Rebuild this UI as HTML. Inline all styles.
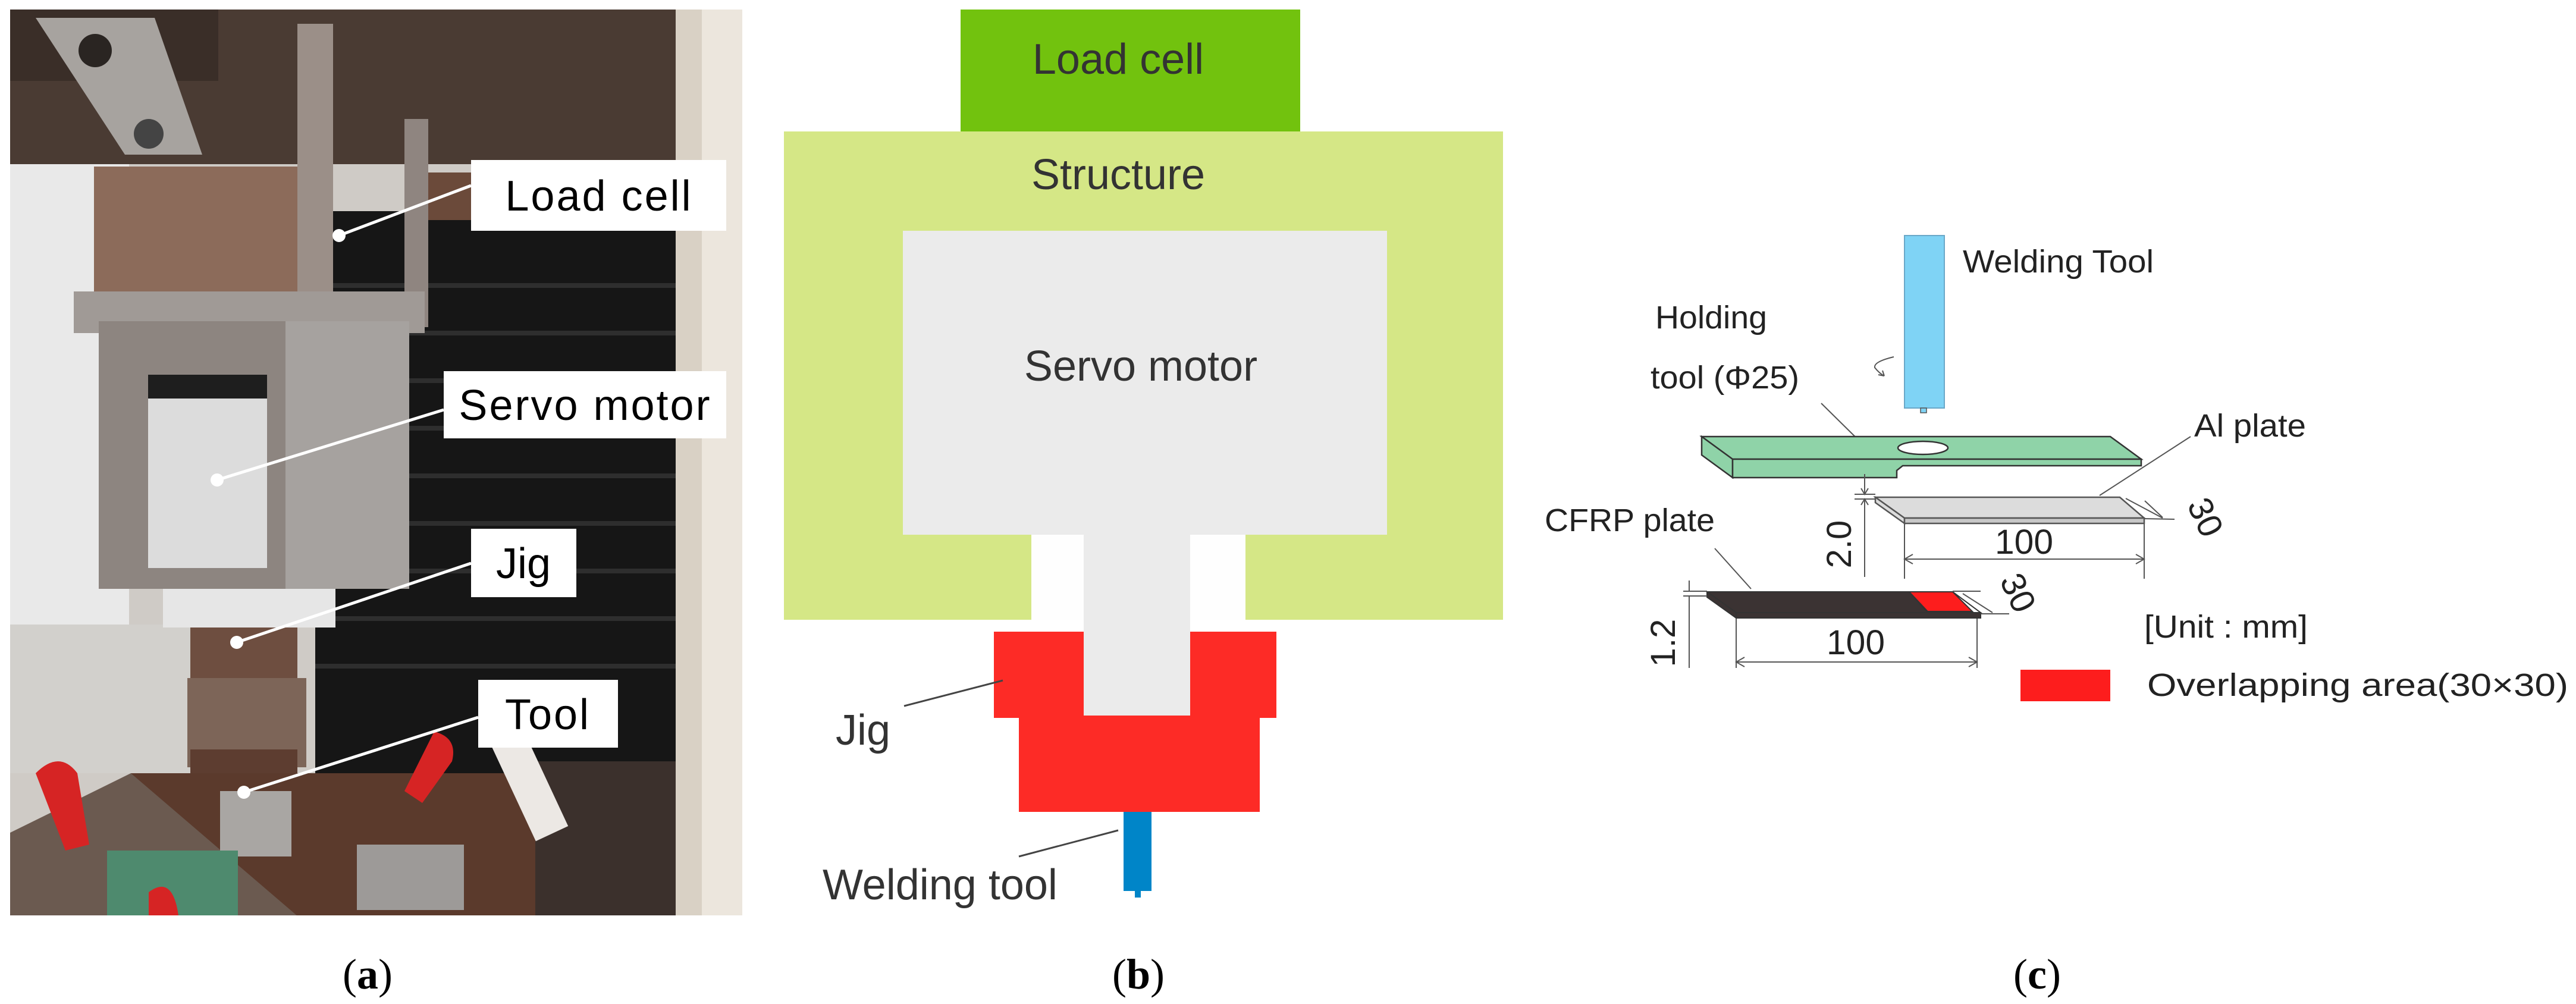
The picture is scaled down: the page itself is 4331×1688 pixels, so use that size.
<!DOCTYPE html>
<html><head><meta charset="utf-8"><style>
html,body{margin:0;padding:0;background:#fff;width:4331px;height:1688px;overflow:hidden}
svg{display:block}
.b{font-family:"Liberation Sans",Arial,sans-serif;fill:#333;font-size:72px}
.c{font-family:"Liberation Sans",Arial,sans-serif;fill:#222;font-size:54px}
.n{font-family:"Liberation Sans",Arial,sans-serif;fill:#222;font-size:58px}
.cap{font-family:"Liberation Serif",serif;font-size:72px;fill:#000}
.lbl{font-family:"Liberation Sans",Arial,sans-serif;font-size:72px;fill:#000}
</style></head><body>
<svg width="4331" height="1688" viewBox="0 0 4331 1688" xmlns="http://www.w3.org/2000/svg">
<!-- ================= Panel (a) photo ================= -->
<defs><clipPath id="ph"><rect x="17" y="16" width="1231" height="1523"/></clipPath></defs>
<g clip-path="url(#ph)">
<rect x="17" y="16" width="1231" height="1523" fill="#cfcbc6"/>
<rect x="17" y="200" width="200" height="900" fill="#e9e9e9"/>
<rect x="17" y="1050" width="400" height="250" fill="#d2d0cc"/>
<rect x="17" y="16" width="1231" height="260" fill="#4a3b33"/>
<rect x="17" y="16" width="350" height="120" fill="#3a2e28"/>
<polygon points="60,30 260,30 340,260 210,260" fill="#a7a39f"/>
<circle cx="160" cy="85" r="28" fill="#2a2522"/><circle cx="250" cy="225" r="25" fill="#444"/>
<rect x="1136" y="16" width="112" height="1523" fill="#d9d1c5"/>
<rect x="1180" y="16" width="68" height="1523" fill="#ece6dd"/>
<rect x="530" y="355" width="606" height="1050" fill="#161616"/>
<g stroke="#2e2e2e" stroke-width="8">
<line x1="530" y1="480" x2="1136" y2="480"/><line x1="530" y1="560" x2="1136" y2="560"/><line x1="530" y1="640" x2="1136" y2="640"/><line x1="530" y1="720" x2="1136" y2="720"/><line x1="530" y1="800" x2="1136" y2="800"/><line x1="530" y1="880" x2="1136" y2="880"/><line x1="530" y1="960" x2="1136" y2="960"/><line x1="530" y1="1040" x2="1136" y2="1040"/><line x1="530" y1="1120" x2="1136" y2="1120"/></g>
<rect x="700" y="290" width="290" height="80" fill="#6b4a3a"/>
<rect x="158" y="280" width="381" height="215" fill="#8c6b5a"/>
<rect x="500" y="40" width="60" height="490" fill="#9b8f88"/>
<rect x="680" y="200" width="40" height="350" fill="#8f8580"/>
<rect x="124" y="490" width="590" height="70" fill="#a09a96"/>
<rect x="166" y="540" width="522" height="450" fill="#8d8580"/>
<rect x="480" y="540" width="208" height="450" fill="#a6a29f"/>
<rect x="249" y="655" width="200" height="300" fill="#dcdcdc"/>
<rect x="249" y="630" width="200" height="40" fill="#1e1e1e"/>
<rect x="274" y="990" width="290" height="65" fill="#e6e6e6"/>
<rect x="320" y="1055" width="180" height="110" fill="#6e4e40"/>
<rect x="315" y="1140" width="200" height="150" fill="#7d6558"/>
<rect x="320" y="1260" width="180" height="60" fill="#5d3d30"/>
<rect x="220" y="1300" width="780" height="240" fill="#5b3a2c"/>
<polygon points="17,1400 220,1300 500,1540 17,1540" fill="#6b5a50"/>
<rect x="370" y="1330" width="120" height="110" fill="#a9a6a3"/>
<rect x="600" y="1420" width="180" height="110" fill="#9d9a98"/>
<rect x="180" y="1430" width="220" height="110" fill="#4e8a6e"/>
<rect x="900" y="1280" width="236" height="260" fill="#3b302c"/>
<rect x="860" y="1230" width="60" height="180" fill="#ece8e4" transform="rotate(-25 890 1320)"/>
<path d="M60 1300 Q100 1260 130 1300 L150 1420 L110 1430 Z" fill="#d62424"/>
<path d="M760 1280 Q770 1240 730 1230 L680 1330 L710 1350 Z" fill="#d62424"/>
<path d="M250 1500 Q290 1470 300 1539 L250 1539 Z" fill="#d62424"/>
</g>
<!-- labels -->
<g stroke="#fff" stroke-width="5">
<line x1="570" y1="396" x2="792" y2="312"/><line x1="365" y1="807" x2="746" y2="689"/>
<line x1="398" y1="1080" x2="792" y2="947"/><line x1="410" y1="1332" x2="804" y2="1206"/></g>
<g fill="#fff"><circle cx="570" cy="396" r="11"/><circle cx="365" cy="807" r="11"/><circle cx="398" cy="1080" r="11"/><circle cx="410" cy="1332" r="11"/>
<rect x="792" y="269" width="429" height="119"/><rect x="746" y="624" width="475" height="113"/>
<rect x="792" y="889" width="177" height="115"/><rect x="804" y="1143" width="235" height="114"/></g>
<text class="lbl" x="1007" y="354" text-anchor="middle" letter-spacing="3">Load cell</text>
<text class="lbl" x="984" y="706" text-anchor="middle" letter-spacing="3">Servo motor</text>
<text class="lbl" x="880" y="972" text-anchor="middle">Jig</text>
<text class="lbl" x="921" y="1226" text-anchor="middle" letter-spacing="3">Tool</text>
<text class="cap" x="618" y="1662" text-anchor="middle">(<tspan font-weight="bold">a</tspan>)</text>

<!-- ================= Panel (b) ================= -->
<rect x="1615" y="16" width="571" height="206" fill="#72c20e"/>
<rect x="1318" y="221" width="1209" height="821" fill="#d5e786"/>
<rect x="1518" y="388" width="814" height="511" fill="#ebebeb"/>
<rect x="1734" y="899" width="360" height="143" fill="#fefefe"/>
<rect x="1671" y="1062" width="475" height="145" fill="#fd2b26"/>
<rect x="1713" y="1205" width="405" height="160" fill="#fd2b26"/>
<rect x="1822" y="899" width="179" height="304" fill="#ebebeb"/>
<rect x="1889" y="1365" width="47" height="133" fill="#0085c8"/>
<rect x="1908" y="1495" width="10" height="14" fill="#0085c8"/>
<text class="b" x="1880" y="124" text-anchor="middle">Load cell</text>
<text class="b" x="1880" y="318" text-anchor="middle">Structure</text>
<text class="b" x="1918" y="640" text-anchor="middle">Servo motor</text>
<g stroke="#444" stroke-width="3"><line x1="1520" y1="1187" x2="1686" y2="1144"/><line x1="1713" y1="1440" x2="1880" y2="1396"/></g>
<text class="b" x="1405" y="1252">Jig</text>
<text class="b" x="1383" y="1512">Welding tool</text>
<text class="cap" x="1914" y="1662" text-anchor="middle">(<tspan font-weight="bold">b</tspan>)</text>

<!-- ================= Panel (c) ================= -->
<rect x="3202" y="396" width="67" height="290" fill="#7fd3f5" stroke="#6aa8c8" stroke-width="2"/>
<rect x="3229" y="686" width="10" height="8" fill="#7fd3f5" stroke="#555" stroke-width="1.5"/>
<text class="c" x="3300" y="458" textLength="321" lengthAdjust="spacingAndGlyphs">Welding Tool</text>
<text class="c" x="2783" y="552" textLength="188" lengthAdjust="spacingAndGlyphs">Holding</text>
<text class="c" x="2775" y="653" textLength="250" lengthAdjust="spacingAndGlyphs">tool (Φ25)</text>
<path d="M3184 600 Q3150 608 3152 618 Q3160 628 3168 632 M3168 632 l-10 -2 M3168 632 l-3 -9" fill="none" stroke="#555" stroke-width="2"/>
<line x1="3062" y1="678" x2="3135" y2="750" stroke="#555" stroke-width="2"/>
<g stroke="#333" stroke-width="2.5" fill="#8fd3a8">
<polygon points="2861,734 3548,734 3600,772 2913,772"/>
<polygon points="2861,734 2913,772 2913,803 2861,765"/>
<polygon points="2913,772 3600,772 3600,783 3199,783 3189,791 3189,803 2913,803"/>
<ellipse cx="3233" cy="753" rx="42" ry="11" fill="#fff"/>
</g>
<g stroke="#555" stroke-width="2.5" fill="#dcdcdc">
<polygon points="3153,836 3564,836 3605,871 3202,871"/>
<polygon points="3153,836 3202,871 3202,880 3153,845"/>
<polygon points="3202,871 3605,871 3605,880 3202,880" fill="#c8c8c8"/>
</g>
<text class="c" x="3689" y="734" textLength="188" lengthAdjust="spacingAndGlyphs">Al plate</text>
<line x1="3683" y1="734" x2="3530" y2="833" stroke="#555" stroke-width="2"/>
<g stroke="#555" stroke-width="2" fill="none">
<line x1="3574" y1="838" x2="3636" y2="871"/><line x1="3605" y1="872" x2="3656" y2="873"/>
<line x1="3606" y1="842" x2="3636" y2="870"/>
<line x1="3202" y1="880" x2="3202" y2="973"/><line x1="3605" y1="880" x2="3605" y2="973"/>
<line x1="3202" y1="940" x2="3605" y2="940"/>
<path d="M3216 932 L3202 940 L3216 948 M3591 932 L3605 940 L3591 948"/>
<line x1="3118" y1="831" x2="3153" y2="831"/><line x1="3118" y1="839" x2="3153" y2="839"/>
<line x1="3135" y1="797" x2="3135" y2="831"/><path d="M3129 821 L3135 831 L3141 821"/>
<line x1="3135" y1="839" x2="3135" y2="970"/><path d="M3129 849 L3135 839 L3141 849"/>
</g>
<text class="n" x="3403" y="931" text-anchor="middle" textLength="98" lengthAdjust="spacingAndGlyphs">100</text>
<text class="n" transform="translate(3690,878) rotate(65)" text-anchor="middle">30</text>
<text class="n" transform="translate(3112,915) rotate(-90)" text-anchor="middle">2.0</text>
<text class="c" x="2597" y="893" textLength="286" lengthAdjust="spacingAndGlyphs">CFRP plate</text>
<line x1="2883" y1="922" x2="2944" y2="990" stroke="#555" stroke-width="2"/>
<g stroke="#333" stroke-width="2">
<polygon points="2870,995 3283,995 3330,1030 2919,1030" fill="#fff"/>
<polygon points="2870,995 3210,995 3241,1030 2919,1030" fill="#3b3333"/>
<polygon points="3210,995 3283,995 3316,1028 3241,1028" fill="#fd1d1d"/>
<polygon points="2870,995 2919,1030 2919,1039 2870,1004" fill="#3b3333"/>
<polygon points="2919,1030 3330,1030 3330,1039 2919,1039" fill="#3b3333"/>
</g>
<g stroke="#555" stroke-width="2" fill="none">
<line x1="3283" y1="994" x2="3330" y2="994"/><line x1="3330" y1="1032" x2="3378" y2="1032"/>
<line x1="3300" y1="998" x2="3350" y2="1030"/>
<line x1="2919" y1="1040" x2="2919" y2="1123"/><line x1="3324" y1="1040" x2="3324" y2="1123"/>
<line x1="2919" y1="1113" x2="3324" y2="1113"/>
<path d="M2933 1105 L2919 1113 L2933 1121 M3310 1105 L3324 1113 L3310 1121"/>
<line x1="2830" y1="994" x2="2870" y2="994"/><line x1="2830" y1="1002" x2="2870" y2="1002"/>
<line x1="2840" y1="976" x2="2840" y2="994"/><line x1="2840" y1="1002" x2="2840" y2="1123"/>
</g>
<text class="n" x="3120" y="1100" text-anchor="middle" textLength="98" lengthAdjust="spacingAndGlyphs">100</text>
<text class="n" transform="translate(3375,1005) rotate(65)" text-anchor="middle">30</text>
<text class="n" transform="translate(2816,1081) rotate(-90)" text-anchor="middle">1.2</text>
<text class="c" x="3605" y="1072" textLength="275" lengthAdjust="spacingAndGlyphs">[Unit : mm]</text>
<rect x="3397" y="1126" width="151" height="53" fill="#fd1d1d"/>
<text class="c" x="3610" y="1170" textLength="708" lengthAdjust="spacingAndGlyphs">Overlapping area(30×30)</text>
<text class="cap" x="3425" y="1662" text-anchor="middle">(<tspan font-weight="bold">c</tspan>)</text>
</svg>
</body></html>
